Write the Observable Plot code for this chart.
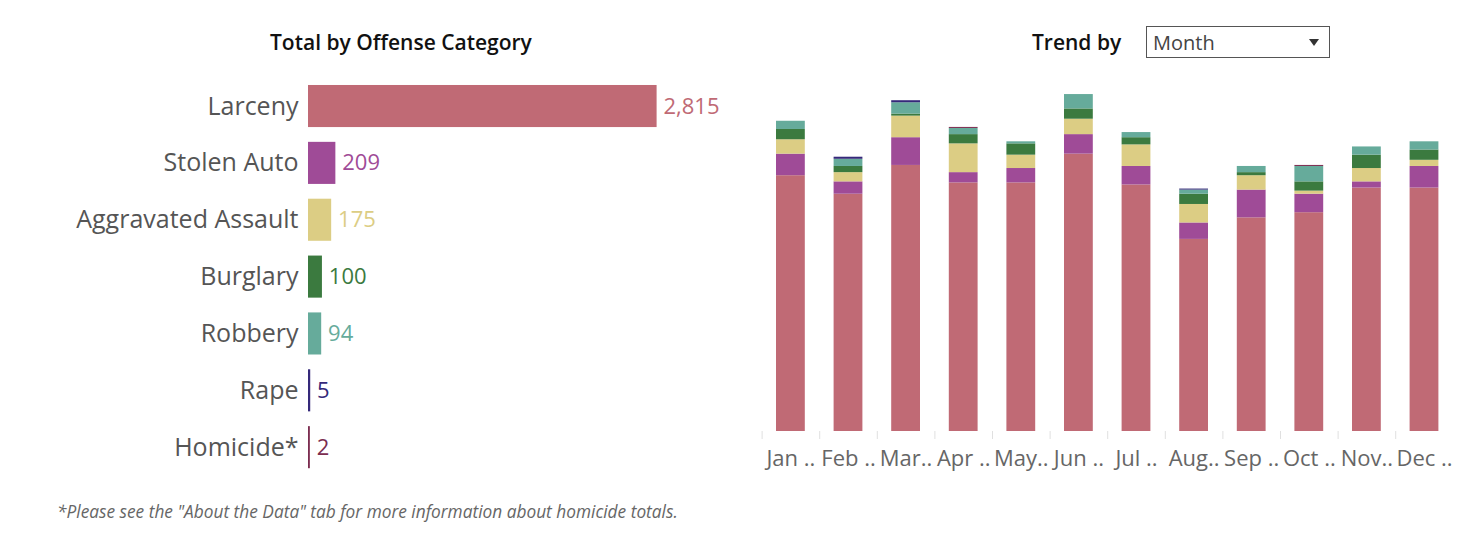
<!DOCTYPE html>
<html>
<head>
<meta charset="utf-8">
<script src="https://cdn.jsdelivr.net/npm/d3@7"></script>
<script src="https://cdn.jsdelivr.net/npm/@observablehq/plot@0.6"></script>
<style>
  html, body { margin: 0; padding: 0; background: #fff; }
  #wrap { position: relative; width: 1484px; height: 540px; font-family: "Open Sans", sans-serif; overflow: hidden; }
  .abs { position: absolute; }
  .title { font-weight: 600; font-size: 21px; color: #111; white-space: nowrap; }
  #left-title { left: 270px; top: 28px; }
  #trend-title { left: 1032px; top: 28px; }
  #dropdown { left: 1146px; top: 26px; width: 184px; height: 32px; border: 1px solid #555; box-sizing: border-box; }
  #dropdown span { position: absolute; left: 6px; top: 2px; font-size: 20px; color: #444; }
  #dropdown i { position: absolute; right: 10px; top: 12px; width: 0; height: 0; border-left: 5px solid transparent; border-right: 5px solid transparent; border-top: 7px solid #333; }
  #note { left: 57px; top: 500px; font-style: italic; font-size: 17.3px; color: #666; white-space: nowrap; }
  #left-chart { left: 0; top: 60px; }
  #right-chart { left: 740px; top: 80px; }
</style>
</head>
<body>
<div id="wrap">
  <div class="abs title" id="left-title">Total by Offense Category</div>
  <div class="abs title" id="trend-title">Trend by</div>
  <div class="abs" id="dropdown"><span>Month</span><i></i></div>
  <div class="abs" id="left-chart"></div>
  <div class="abs" id="right-chart"></div>
  <div class="abs" id="note">*Please see the "About the Data" tab for more information about homicide totals.</div>
</div>
<script>
const categories = ["Larceny", "Stolen Auto", "Aggravated Assault", "Burglary", "Robbery", "Rape", "Homicide*"];
const colors = ["#c06a75", "#9f4b97", "#dccd84", "#3b7a3f", "#66ab9b", "#35297a", "#7c2d50"];
const totals = [2815, 209, 175, 100, 94, 5, 2];

const months = ["Jan ..", "Feb ..", "Mar..", "Apr ..", "May..", "Jun ..", "Jul ..", "Aug..", "Sep ..", "Oct ..", "Nov..", "Dec .."];
const larceny    = [249, 231, 259, 242, 242, 270, 240, 187, 208, 213, 237, 237];
const stolenAuto = [21, 12, 27, 10, 14, 19, 18, 16, 27, 18, 6, 21];
const aggAssault = [14, 9, 21, 28, 13, 15, 21, 18, 14, 3, 13, 6];
const burglary   = [10, 6, 2, 9, 11, 10, 7, 10, 3, 9, 13, 10];
const robbery    = [8, 7, 11, 6, 2, 14, 5, 4, 6, 15, 8, 8];
const rape       = [0, 2, 2, 0, 0, 0, 0, 1, 0, 0, 0, 0];
const homicide   = [0, 0, 0, 1, 0, 0, 0, 0, 0, 1, 0, 0];

const series = [larceny, stolenAuto, aggAssault, burglary, robbery, rape, homicide];
const totalsData = categories.map((c, i) => ({category: c, total: totals[i]}));
const monthly = [];
categories.forEach((c, i) => months.forEach((m, j) => monthly.push({category: c, month: m, value: series[i][j]})));

const color = {domain: categories, range: colors};

const left = Plot.plot({
  width: 740, height: 428,
  marginLeft: 308, marginRight: 85, marginTop: 10.2, marginBottom: 5,
  style: {fontFamily: "Open Sans, sans-serif", background: "transparent"},
  x: {domain: [0, 2815], axis: null},
  y: {domain: categories, padding: 0.26, round: false, label: null, axis: null},
  color,
  marks: [
    Plot.barX(totalsData, {y: "category", x: "total", fill: "category", insetRight: -1.6}),
    Plot.axisY({tickSize: 0, tickPadding: 10, fontSize: 25, fill: "#555", label: null}),
    Plot.text(totalsData, {y: "category", x: "total", text: d => d3.format(",")(d.total), fill: "category", textAnchor: "start", dx: 8, fontSize: 22})
  ]
});
document.getElementById("left-chart").append(left);

const step = 57.6;
const right = Plot.plot({
  width: 720, height: 400,
  marginLeft: 21.6, marginRight: 7.2, marginTop: 12, marginBottom: 49,
  style: {fontFamily: "Open Sans, sans-serif", background: "transparent"},
  x: {domain: months, paddingInner: 0.5, paddingOuter: 0.25, round: false, label: null, axis: null},
  y: {domain: [0, 330], axis: null},
  color,
  marks: [
    Plot.barY(monthly, {x: "month", y: "value", fill: "category", order: categories}),
    Plot.axisX({tickSize: 8, tickFormat: () => "", dx: -step / 2, stroke: "#e0e0e0", label: null}),
    Plot.axisX({tickSize: 0, tickPadding: 19, fontSize: 22, fill: "#666", label: null})
  ]
});
document.getElementById("right-chart").append(right);
</script>
</body>
</html>
